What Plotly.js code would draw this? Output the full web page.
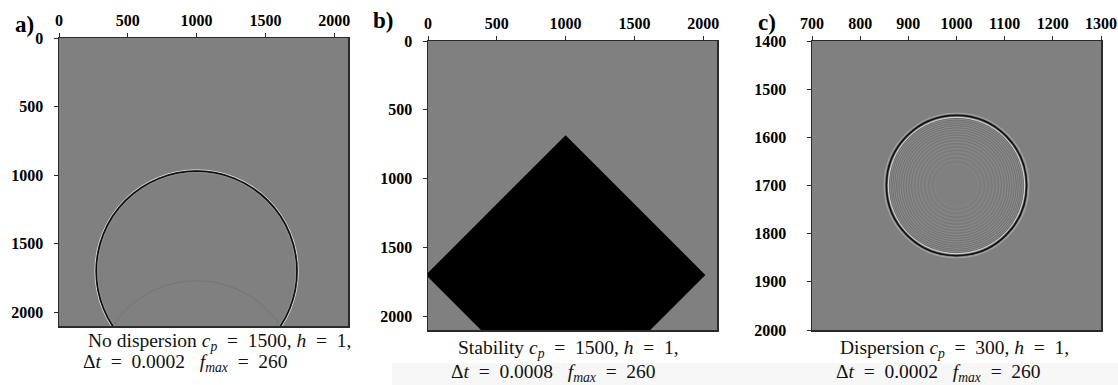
<!DOCTYPE html>
<html>
<head>
<meta charset="utf-8">
<script src="https://cdn.plot.ly/plotly-3.0.1.min.js"></script>
<style>html,body{margin:0;padding:0;background:#fff;}#chart{width:1118px;height:385px;}</style>
</head>
<body>
<div id="chart"></div>
<script>
// ---------------- data ----------------
const panelLabels = ['a)', 'b)', 'c)'];
const ticksAB = [0, 500, 1000, 1500, 2000];
const ticksCx = [700, 800, 900, 1000, 1100, 1200, 1300];
const ticksCy = [1400, 1500, 1600, 1700, 1800, 1900, 2000];
const rangeAB = [0, 2100];
const rangeCx = [700, 1300];
const rangeCy = [1400, 2000];

// panel a: direct wavefront and faint reflected wavefront
const wavefrontCenterA = [1000, 1700];
const wavefrontRadiiA = [739, 729, 719];       // white, black, light
const reflectionCenterA = [1000, 2500];
const reflectionRadiusA = 730;

// panel b: unstable (blown-up) diamond region
const diamondX = [0, 1000, 2000, 1000, 0];
const diamondY = [1700, 700, 1700, 2700, 1700];

// panel c: dispersive wavefront with trailing ripples
const wavefrontCenterC = [1000, 1700];
const wavefrontRadiiC = [150, 145.5, 141.5];      // light, black, white
const rippleLightC = [137.5, 134, 130.5, 126.5, 122, 117.5, 112.5, 107.5, 102, 96.5, 90.5, 84, 77, 70, 62, 54, 45];
const rippleDarkC  = [139.5, 136, 132.5, 128.5, 124.5, 120, 115, 110, 105, 99.5, 93.5, 87, 80.5, 73.5, 66, 58, 49.5];

const S = '&#8194;'; // en space (math spacing around "=")
const captions = [
  ['No dispersion <i>c<sub>p</sub></i>' + S + '=' + S + '1500, <i>h</i>' + S + '=' + S + '1,', 'Δ<i>t</i>' + S + '=' + S + '0.0002 ' + S + '<i>f<sub>max</sub></i>' + S + '=' + S + '260'],
  ['Stability <i>c<sub>p</sub></i>' + S + '=' + S + '1500, <i>h</i>' + S + '=' + S + '1,', 'Δ<i>t</i>' + S + '=' + S + '0.0008 ' + S + '<i>f<sub>max</sub></i>' + S + '=' + S + '260'],
  ['Dispersion <i>c<sub>p</sub></i>' + S + '=' + S + '300, <i>h</i>' + S + '=' + S + '1,', 'Δ<i>t</i>' + S + '=' + S + '0.0002 ' + S + '<i>f<sub>max</sub></i>' + S + '=' + S + '260']
];

// ---------------- layout helpers (pixels -> paper) ----------------
const W = 1118, H = 385;
const px = p => p / W;
const py = p => 1 - p / H;

const tickFont = {family: 'Liberation Serif', size: 16, color: '#000', weight: 'bold'};
function axisStyle(extra) {
  return Object.assign({
    showline: true, mirror: true, linecolor: '#2a2a2a', linewidth: 1.5,
    ticks: 'outside', ticklen: 4, tickwidth: 1, tickcolor: '#2a2a2a',
    showgrid: false, zeroline: false, tickfont: tickFont, fixedrange: true
  }, extra);
}

const layout = {
  width: W, height: H,
  margin: {l: 0, r: 0, t: 0, b: 0},
  paper_bgcolor: '#ffffff',
  plot_bgcolor: '#808080',
  showlegend: false,
  xaxis:  axisStyle({domain: [px(59), px(348)],  range: rangeAB, side: 'top', anchor: 'y',  tickvals: ticksAB, ticklabelstandoff: 0}),
  yaxis:  axisStyle({domain: [py(326), py(38)],  range: [rangeAB[1], rangeAB[0]], anchor: 'x', tickvals: ticksAB, ticklabelstandoff: 7}),
  xaxis2: axisStyle({domain: [px(428), px(717)], range: rangeAB, side: 'top', anchor: 'y2', tickvals: ticksAB, ticklabelstandoff: 0}),
  yaxis2: axisStyle({domain: [py(330), py(41)],  range: [rangeAB[1], rangeAB[0]], anchor: 'x2', tickvals: ticksAB, ticklabelstandoff: 7}),
  xaxis3: axisStyle({domain: [px(812), px(1101)], range: rangeCx, side: 'top', anchor: 'y3', tickvals: ticksCx, ticklabelstandoff: 0}),
  yaxis3: axisStyle({domain: [py(330), py(41)],  range: [rangeCy[1], rangeCy[0]], anchor: 'x3', tickvals: ticksCy, ticklabelstandoff: 17}),
  shapes: [],
  annotations: []
};

function circle(xref, yref, c, r, color, width, opacity) {
  return {type: 'circle', xref: xref, yref: yref, layer: 'above',
    x0: c[0] - r, x1: c[0] + r, y0: c[1] - r, y1: c[1] + r,
    line: {color: color, width: width}, opacity: opacity == null ? 1 : opacity, fillcolor: 'rgba(0,0,0,0)'};
}

// faint light band under the captions (scan artefact)
layout.shapes.push({type: 'rect', xref: 'paper', yref: 'paper', layer: 'below',
  x0: px(392), x1: 1, y0: 0, y1: py(363), fillcolor: '#f7f7f7', line: {width: 0}});

// panel a
layout.shapes.push(circle('x', 'y', reflectionCenterA, reflectionRadiusA, '#747474', 1));
const ringStyleA = [['#d6d6d6', 1.0], ['#111111', 1.7], ['#8e8e8e', 1]];
wavefrontRadiiA.forEach((r, i) => layout.shapes.push(circle('x', 'y', wavefrontCenterA, r, ringStyleA[i][0], ringStyleA[i][1])));

// panel c
rippleLightC.forEach((r, i) => layout.shapes.push(circle('x3', 'y3', wavefrontCenterC, r, '#a2a2a2', 0.7, 0.7 - 0.03 * i)));
rippleDarkC.forEach((r, i) => layout.shapes.push(circle('x3', 'y3', wavefrontCenterC, r, '#606060', 0.7, 0.7 - 0.03 * i)));
const ringStyleC = [['#a4a4a4', 1.2], ['#121212', 1.7], ['#dadada', 1.0]];
wavefrontRadiiC.forEach((r, i) => layout.shapes.push(circle('x3', 'y3', wavefrontCenterC, r, ringStyleC[i][0], ringStyleC[i][1])));

// panel labels
const labelPos = [[13, 24], [371, 20], [756, 22]];
panelLabels.forEach((t, i) => layout.annotations.push({
  xref: 'paper', yref: 'paper', x: px(labelPos[i][0]), y: py(labelPos[i][1]),
  xanchor: 'left', yanchor: 'middle', showarrow: false, text: t,
  font: {family: 'Liberation Serif', size: 23, color: '#000', weight: 'bold'}
}));

// captions
const capPos = [[[86, 342], [81, 363]], [[456, 349], [449, 373]], [[838, 349], [834, 373]]];
const capFont = {family: 'Liberation Serif', size: 19.5, color: '#111'};
captions.forEach((lines, i) => lines.forEach((t, j) => layout.annotations.push({
  xref: 'paper', yref: 'paper', x: px(capPos[i][j][0]), y: py(capPos[i][j][1]),
  xanchor: 'left', yanchor: 'middle', showarrow: false, text: t, font: capFont
})));

const traces = [
  {type: 'scatter', mode: 'lines', x: diamondX, y: diamondY, xaxis: 'x2', yaxis: 'y2',
   fill: 'toself', fillcolor: '#000000', line: {color: '#000000', width: 3, shape: 'linear'}, hoverinfo: 'skip'},
  // invisible anchors so every subplot is drawn
  {type: 'scatter', mode: 'markers', x: [wavefrontCenterA[0]], y: [wavefrontCenterA[1]], xaxis: 'x', yaxis: 'y', marker: {opacity: 0}, hoverinfo: 'skip'},
  {type: 'scatter', mode: 'markers', x: [wavefrontCenterC[0]], y: [wavefrontCenterC[1]], xaxis: 'x3', yaxis: 'y3', marker: {opacity: 0}, hoverinfo: 'skip'}
];

Plotly.newPlot('chart', traces, layout, {displayModeBar: false, staticPlot: true});
</script>
</body>
</html>
